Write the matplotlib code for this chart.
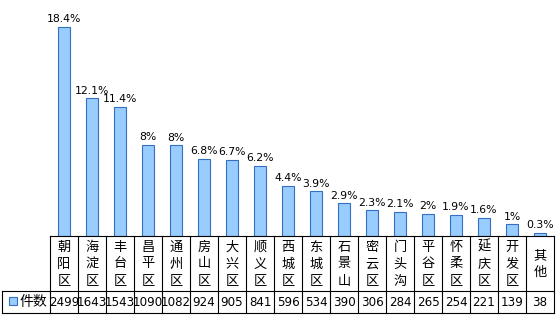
import matplotlib
matplotlib.use("Agg")
import matplotlib.pyplot as plt
from matplotlib.patches import Rectangle

plt.rcParams['font.family'] = ['Noto Sans CJK SC', 'DejaVu Sans']

categories = ["朝阳区", "海淀区", "丰台区", "昌平区", "通州区", "房山区", "大兴区", "顺义区",
              "西城区", "东城区", "石景山", "密云区", "门头沟", "平谷区", "怀柔区", "延庆区",
              "开发区", "其他"]
counts = [2499, 1643, 1543, 1090, 1082, 924, 905, 841, 596, 534, 390, 306, 284, 265, 254, 221, 139, 38]
pct_labels = ["18.4%", "12.1%", "11.4%", "8%", "8%", "6.8%", "6.7%", "6.2%", "4.4%", "3.9%",
              "2.9%", "2.3%", "2.1%", "2%", "1.9%", "1.6%", "1%", "0.3%"]
series_name = "件数"

W, H = 560, 320
fig = plt.figure(figsize=(W / 100, H / 100), dpi=100)
fig.patch.set_facecolor('white')

x0, x1 = 50, 554
y_axis_bottom, y_axis_top = 236, 10
y_num_top, y_num_bot = 291, 313
leg_x0 = 2

def fx(px):
    return px / W

def fy(py):
    return 1 - py / H

ax = fig.add_axes([fx(x0), fy(y_axis_bottom), fx(x1) - fx(x0), fy(y_axis_top) - fy(y_axis_bottom)])
n = len(categories)
xs = list(range(n))
ax.bar(xs, counts, width=0.4, color='#99ccff', edgecolor='#3370c0', linewidth=0.8)
ax.set_xlim(-0.5, n - 0.5)
ax.set_ylim(0, 2700)
ax.axis('off')

for x, v, lab in zip(xs, counts, pct_labels):
    ax.annotate(lab, (x, v), xytext=(0, 2), textcoords='offset points',
                ha='center', va='bottom', fontsize=7.8, family=['DejaVu Sans'])

col_w = (x1 - x0) / n
lw = 0.8
def hline(y, xa, xb):
    fig.add_artist(plt.Line2D([fx(xa), fx(xb)], [fy(y), fy(y)], color='black', lw=lw))

def vline(x, ya, yb):
    fig.add_artist(plt.Line2D([fx(x), fx(x)], [fy(ya), fy(yb)], color='black', lw=lw))

hline(y_axis_bottom, x0, x1)
hline(y_num_top, leg_x0, x1)
hline(y_num_bot, leg_x0, x1)
for i in range(n + 1):
    vline(x0 + i * col_w, y_axis_bottom, y_num_bot)
vline(leg_x0, y_num_top, y_num_bot)

for i, (cat, v) in enumerate(zip(categories, counts)):
    cx = x0 + (i + 0.5) * col_w
    fig.text(fx(cx), fy((y_axis_bottom + y_num_top) / 2 + 0.5), "\n".join(cat),
             ha='center', va='center', fontsize=9.5, linespacing=1.4)
    fig.text(fx(cx), fy((y_num_top + y_num_bot) / 2), str(v),
             ha='center', va='center', fontsize=8.6, family=['DejaVu Sans'])

fig.add_artist(Rectangle((fx(9), fy(305)), fx(8) - fx(0), fy(297) - fy(305),
                         facecolor='#99ccff', edgecolor='#3370c0', lw=0.8))
fig.text(fx(19), fy((y_num_top + y_num_bot) / 2), series_name,
         ha='left', va='center', fontsize=10)

fig.savefig('out.png', dpi=100, facecolor='white')
